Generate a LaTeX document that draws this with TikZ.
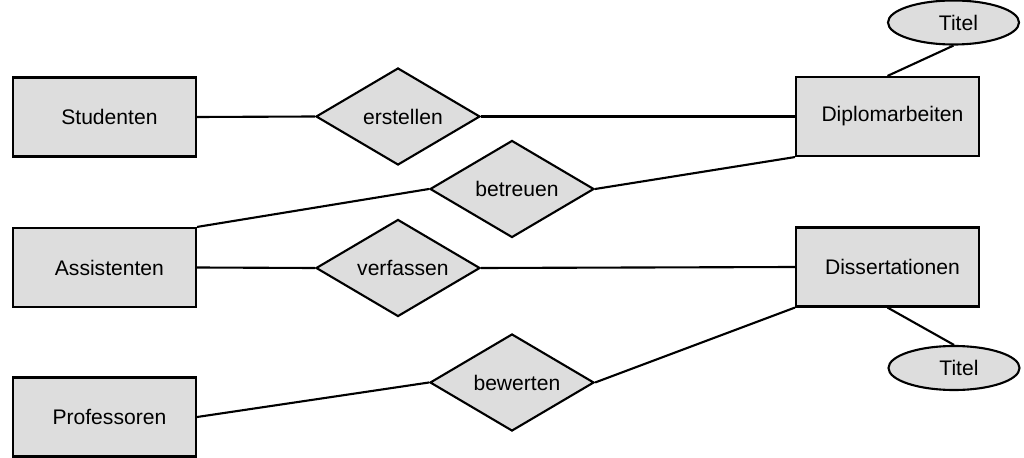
\documentclass[tikz,border=0pt]{standalone}
\usepackage{fontspec}
\setmainfont{Liberation Sans}
\usepackage{tikz}
\usetikzlibrary{shapes.geometric}
\usepackage{color}
\definecolor{boxgray}{RGB}{221, 221, 221}

\tikzset{
    % labels sit a little right of centre
    labelshift/.style = {execute at begin node={\hspace*{7pt}}},
    entity/.style     = {draw, fill=boxgray, line width=1.5pt, rectangle, inner sep=0pt, labelshift,
                         minimum width=4.575cm, minimum height=1.975cm},
    relation/.style   = {draw, fill=boxgray, line width=1.5pt, diamond, shape aspect=2, inner sep=0pt, labelshift,
                         minimum width=4.1cm, minimum height=2.425cm},
    attribute/.style  = {draw, fill=boxgray, line width=1.5pt, ellipse, inner sep=0pt, labelshift,
                         minimum width=3.275cm, minimum height=1.1cm},
    link/.style       = {line width=1.5pt}
}

\begin{document}
\begin{tikzpicture}[x=0.025cm, y=-0.025cm, font=\fontsize{15}{18}\selectfont]
            % Frame
            \useasboundingbox                       (0, 0) rectangle (1024, 458);
            % Entities
            \node[entity]    (studenten)   at (104.5, 117.0) {Studenten};
            \node[entity]    (assistenten) at (104.5, 267.5) {Assistenten};
            \node[entity]    (professoren) at (104.5, 417.0) {Professoren};
            \node[entity]    (diplom)      at (887.5, 116.5) {Diplomarbeiten};
            \node[entity]    (diss)        at (887.5, 267.0) {Dissertationen};
            % Relationships
            \node[relation]  (erstellen)   at (398.0, 116.5) {erstellen};
            \node[relation]  (betreuen)    at (512.0, 189.0) {betreuen};
            \node[relation]  (verfassen)   at (398.0, 268.0) {verfassen};
            \node[relation]  (bewerten)    at (512.0, 382.5) {bewerten};
            % Attributes
            \node[attribute] (titelA)      at (953.5,  22.5) {Titel};
            \node[attribute] (titelB)      at (954.0, 368.0) {Titel};
            % Links
            \draw[link] (studenten.east)         -- (erstellen.west);
            \draw[link] (erstellen.east)         -- (diplom.west);
            \draw[link] (assistenten.north east) -- (betreuen.west);
            \draw[link] (betreuen.east)          -- (diplom.south west);
            \draw[link] (assistenten.east)       -- (verfassen.west);
            \draw[link] (verfassen.east)         -- (diss.west);
            \draw[link] (professoren.east)       -- (bewerten.west);
            \draw[link] (bewerten.east)          -- (diss.south west);
            \draw[link] (diplom.north)           -- (titelA.south);
            \draw[link] (diss.south)             -- (titelB.north);
\end{tikzpicture}
\end{document}
